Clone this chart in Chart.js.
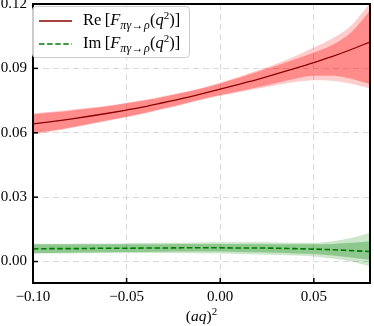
<!DOCTYPE html>
<html><head><meta charset="utf-8">
<script src="https://cdn.jsdelivr.net/npm/chart.js@4.4.0/dist/chart.umd.min.js"></script>
<style>
html,body{margin:0;padding:0;background:#fff;}
#wrap{position:relative;width:374px;height:326px;overflow:hidden;}
#c{position:absolute;left:0;top:0;}
.math{font-family:'Liberation Serif','Times New Roman',serif;color:#000;}
#legend{position:absolute;left:32px;top:6px;width:158px;height:52px;box-sizing:border-box;background:rgba(255,255,255,0.8);border:1px solid #cccccc;border-radius:4px;}
.sw{position:absolute;left:6px;}
.lab{position:absolute;left:50px;font-size:16.5px;line-height:20px;white-space:nowrap;}
.sb{font-size:12px;position:relative;top:4px;letter-spacing:0.3px;}
.sp{font-size:11px;position:relative;top:-6px;}
#xtitle{position:absolute;left:33px;width:337px;top:306px;text-align:center;font-size:15.5px;line-height:20px;}
</style>
</head><body>
<div id="wrap">
<canvas id="c" width="374" height="326"></canvas>
<div id="legend" class="math">
  <svg class="sw" style="top:12px" width="33" height="4"><line x1="0" y1="2" x2="33" y2="2" stroke="#8b0000" stroke-width="1.4"/></svg>
  <span class="lab" style="top:3px">Re&#8201;[<i>F</i><span class="sb"><i>πγ</i>→<i>ρ</i></span>(<i>q</i><span class="sp">2</span>)]</span>
  <svg class="sw" style="top:35px" width="33" height="4"><line x1="0" y1="2" x2="33" y2="2" stroke="#007a00" stroke-width="1.6" stroke-dasharray="5.5 2.6"/></svg>
  <span class="lab" style="top:26px">Im&#8201;[<i>F</i><span class="sb"><i>πγ</i>→<i>ρ</i></span>(<i>q</i><span class="sp">2</span>)]</span>
</div>
<div id="xtitle" class="math">(<i>aq</i>)<span class="sp">2</span></div>
</div>
<script>
// ---- data ----
const q2 = [-0.10,-0.09,-0.08,-0.07,-0.06,-0.05,-0.04,-0.03,-0.02,-0.01,0.00,0.01,0.02,0.03,0.04,0.05,0.06,0.07,0.08];

const reCentral = [0.0641,0.0652,0.0664,0.0677,0.0691,0.0706,0.0722,0.0741,0.0760,0.0781,0.0803,0.0826,0.0849,0.0874,0.0900,0.0927,0.0956,0.0988,0.1023];
const reInnerUp = [0.0686,0.0694,0.0703,0.0713,0.0724,0.0737,0.0751,0.0768,0.0786,0.0806,0.0830,0.0856,0.0884,0.0912,0.0942,0.0974,0.1010,0.1068,0.1170];
const reInnerLo = [0.0596,0.0610,0.0625,0.0641,0.0658,0.0675,0.0693,0.0714,0.0734,0.0756,0.0776,0.0794,0.0812,0.0832,0.0852,0.0866,0.0866,0.0852,0.0826];
const reOuterUp = [0.0690,0.0698,0.0707,0.0716,0.0727,0.0740,0.0754,0.0771,0.0789,0.0809,0.0834,0.0861,0.0891,0.0922,0.0957,0.0997,0.1040,0.1100,0.1205];
const reOuterLo = [0.0592,0.0606,0.0621,0.0638,0.0655,0.0672,0.0690,0.0711,0.0731,0.0753,0.0772,0.0789,0.0805,0.0821,0.0836,0.0845,0.0842,0.0828,0.0806];

const imCentral = [0.0059,0.0060,0.0060,0.0061,0.0062,0.0062,0.0063,0.0063,0.0064,0.0064,0.0064,0.0063,0.0063,0.0062,0.0060,0.0058,0.0055,0.0051,0.0047];
const imInnerUp = [0.0080,0.0080,0.0080,0.0080,0.0080,0.0080,0.0081,0.0081,0.0082,0.0082,0.0082,0.0082,0.0082,0.0081,0.0080,0.0080,0.0082,0.0087,0.0095];
const imInnerLo = [0.0039,0.0040,0.0041,0.0042,0.0043,0.0044,0.0045,0.0046,0.0047,0.0047,0.0047,0.0045,0.0043,0.0041,0.0038,0.0035,0.0028,0.0019,0.0007];
const imOuterUp = [0.0083,0.0083,0.0083,0.0084,0.0084,0.0085,0.0086,0.0087,0.0088,0.0089,0.0090,0.0090,0.0090,0.0089,0.0088,0.0088,0.0095,0.0110,0.0134];
const imOuterLo = [0.0036,0.0037,0.0038,0.0039,0.0039,0.0040,0.0040,0.0040,0.0039,0.0038,0.0037,0.0035,0.0033,0.0031,0.0028,0.0024,0.0014,0.0000,-0.0022];

const xTicks = [-0.10,-0.05,0.00,0.05];
const yTicks = [0.00,0.03,0.06,0.09,0.12];
const xRange = [-0.10,0.08];
const yRange = [-0.01,0.12];

// ---- chart ----
const pts = arr => arr.map((v,i)=>({x:q2[i], y:v}));
const band = (arr, color, fill) => ({data:pts(arr), borderWidth:0, pointRadius:0, backgroundColor:color, fill:fill, cubicInterpolationMode:'monotone'});
const fmt = v => (v < -1e-9 ? '\u2212' : '') + Math.abs(v).toFixed(2);
const tickFont = {family:"'Liberation Serif','Times New Roman',serif", size:15};

const frame = {
  id:'frame',
  afterDraw(chart){
    const {ctx, chartArea:a, scales:{x,y}} = chart;
    ctx.save();
    ctx.strokeStyle = '#000';
    ctx.lineWidth = 1.5;
    xTicks.forEach(v=>{const p=x.getPixelForValue(v); ctx.beginPath(); ctx.moveTo(p,a.bottom); ctx.lineTo(p,a.bottom-5); ctx.stroke();});
    yTicks.forEach(v=>{const p=y.getPixelForValue(v); ctx.beginPath(); ctx.moveTo(a.left,p); ctx.lineTo(a.left+5,p); ctx.stroke();});
    ctx.lineWidth = 2;
    ctx.strokeRect(a.left, a.top, a.right-a.left, a.bottom-a.top);
    ctx.restore();
  }
};

const axisCommon = {
  type:'linear',
  grid:{color:'#d9d9d9', lineWidth:1, drawTicks:false},
  border:{display:false, dash:[6,4]},
  ticks:{font:tickFont, color:'#000', autoSkip:false, maxRotation:0, callback:fmt}
};

new Chart(document.getElementById('c'), {
  type:'line',
  data:{datasets:[
    {data:pts(reCentral), borderColor:'#8b0000', borderWidth:1.3, pointRadius:0, fill:false, cubicInterpolationMode:'monotone'},
    {data:pts(imCentral), borderColor:'#007a00', borderWidth:1.6, borderDash:[5.5,2.6], pointRadius:0, fill:false, cubicInterpolationMode:'monotone'},
    band(reInnerUp,'rgba(255,0,0,0.32)','+1'),
    band(reInnerLo,'rgba(0,0,0,0)',false),
    band(reOuterUp,'rgba(255,0,0,0.20)','+1'),
    band(reOuterLo,'rgba(0,0,0,0)',false),
    band(imInnerUp,'rgba(0,128,0,0.30)','+1'),
    band(imInnerLo,'rgba(0,0,0,0)',false),
    band(imOuterUp,'rgba(0,128,0,0.20)','+1'),
    band(imOuterLo,'rgba(0,0,0,0)',false)
  ]},
  options:{
    responsive:false, animation:false, devicePixelRatio:1,
    layout:{padding:{top:4,right:4,left:0,bottom:0}},
    plugins:{legend:{display:false}, tooltip:{enabled:false}},
    scales:{
      x:Object.assign({}, axisCommon, {
        min:xRange[0], max:xRange[1],
        ticks:Object.assign({}, axisCommon.ticks, {padding:5}),
        afterBuildTicks:s=>{s.ticks = xTicks.map(v=>({value:v}));},
        afterFit:s=>{s.height=43; s.paddingLeft=0; s.paddingRight=0;}
      }),
      y:Object.assign({}, axisCommon, {
        min:yRange[0], max:yRange[1],
        ticks:Object.assign({}, axisCommon.ticks, {padding:6}),
        afterBuildTicks:s=>{s.ticks = yTicks.map(v=>({value:v}));},
        afterFit:s=>{s.width=33; s.paddingTop=0; s.paddingBottom=0;}
      })
    }
  },
  plugins:[frame]
});
</script>
</body></html>
